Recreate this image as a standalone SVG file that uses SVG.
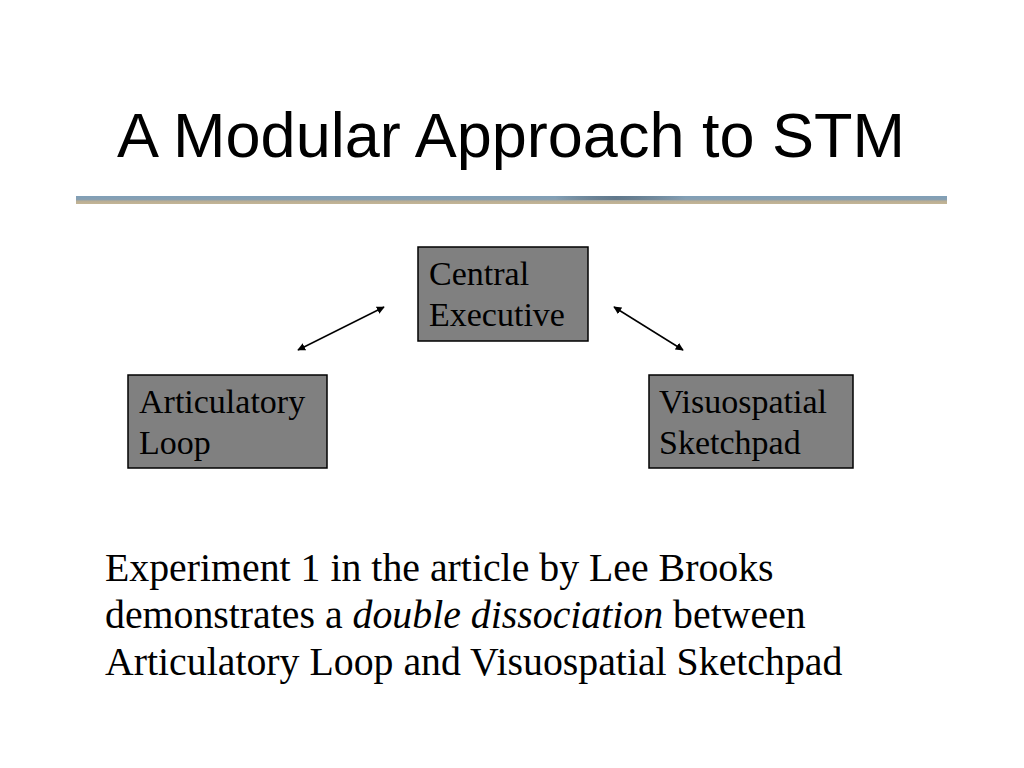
<svg xmlns="http://www.w3.org/2000/svg" width="1024" height="768" viewBox="0 0 1024 768">
<defs>
<style>
.box{fill:#808080;stroke:#000;stroke-width:1.5}
.bt{font-family:"Liberation Serif",serif;font-size:34px;fill:#000}
.body{font-family:"Liberation Serif",serif;font-size:39.8px;fill:#000}
.conn{stroke:#000;stroke-width:1.5;fill:none;marker-start:url(#ah);marker-end:url(#ah)}
</style>
<marker id="ah" viewBox="0 0 10 10" refX="9" refY="5" markerWidth="8" markerHeight="8" orient="auto-start-reverse" markerUnits="userSpaceOnUse">
<path d="M0,0 L10,5 L0,10 z" fill="#000"/>
</marker>
<linearGradient id="bar" x1="0" y1="0" x2="0" y2="1">
<stop offset="0" stop-color="#7f9fb8"/>
<stop offset="0.5" stop-color="#8aa0b0"/>
<stop offset="0.6" stop-color="#b8ad95"/>
<stop offset="1" stop-color="#c4b595"/>
</linearGradient>
<linearGradient id="barh" x1="0" y1="0" x2="1" y2="0">
<stop offset="0" stop-color="#000" stop-opacity="0"/>
<stop offset="0.55" stop-color="#000" stop-opacity="0"/>
<stop offset="0.62" stop-color="#203040" stop-opacity="0.35"/>
<stop offset="0.7" stop-color="#000" stop-opacity="0"/>
<stop offset="1" stop-color="#000" stop-opacity="0"/>
</linearGradient>
</defs>
<rect width="1024" height="768" fill="#fff"/>
<text x="511" y="157" text-anchor="middle" font-family="Liberation Sans, Arial, sans-serif" font-size="63" fill="#000">A Modular Approach to STM</text>
<rect x="76" y="196" width="871" height="8" fill="url(#bar)"/>
<rect x="76" y="196" width="871" height="4" fill="url(#barh)"/>
<g id="connectors">
<line class="conn" x1="384" y1="307" x2="298" y2="350"/>
<line class="conn" x1="614" y1="307" x2="683" y2="350"/>
</g>
<g id="central-executive">
<rect class="box" x="418" y="247" width="170" height="94"/>
<text class="bt" x="429" y="285">Central</text>
<text class="bt" x="429" y="326">Executive</text>
</g>
<g id="articulatory-loop">
<rect class="box" x="128" y="375" width="199" height="93"/>
<text class="bt" x="139" y="413">Articulatory</text>
<text class="bt" x="139" y="454">Loop</text>
</g>
<g id="visuospatial-sketchpad">
<rect class="box" x="649" y="375" width="204" height="93"/>
<text class="bt" x="659" y="413">Visuospatial</text>
<text class="bt" x="659" y="454">Sketchpad</text>
</g>
<g id="caption">
<text class="body" x="105" y="581">Experiment 1 in the article by Lee Brooks</text>
<text class="body" x="105" y="628">demonstrates a <tspan font-style="italic">double dissociation</tspan> between</text>
<text class="body" x="105" y="675">Articulatory Loop and Visuospatial Sketchpad</text>
</g>
</svg>
